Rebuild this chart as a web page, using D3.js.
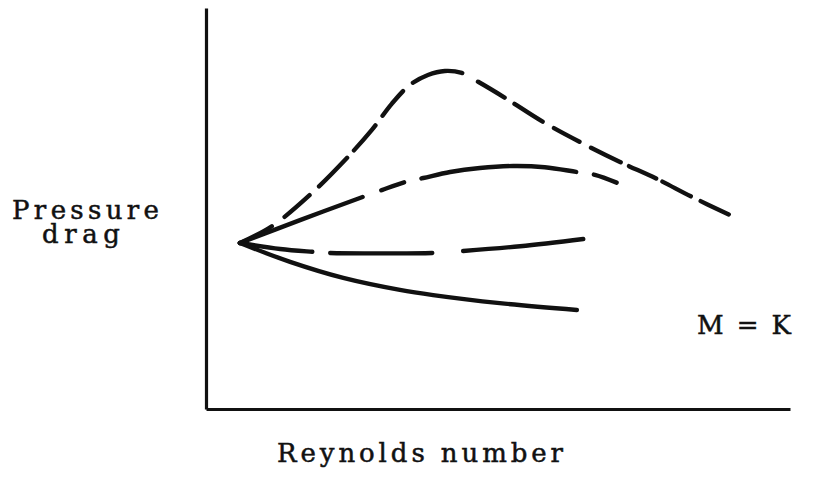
<!DOCTYPE html>
<html>
<head>
<meta charset="utf-8">
<script src="https://cdn.jsdelivr.net/npm/d3@7"></script>
<style>
  html, body { margin: 0; padding: 0; background: #fff; }
  svg { display: block; }
  text { font-family: "DejaVu Serif", serif; fill: #111; stroke: #111; stroke-width: 0.5; }
</style>
</head>
<body>
<svg id="chart" width="823" height="486"></svg>
<script>
// Pressure drag versus Reynolds number at constant Mach number (schematic, arbitrary units)
const curveNames = ["peak", "rise", "flat", "fall"];

// Curve 1: strong rise to a sharp peak, then decline (dashed)
const peakRe   = [5.8, 11.3, 17.8, 23.8, 28.4, 31.8, 34.9, 38.0, 40.9, 43.8, 46.6, 51.2, 57.7, 64.0, 70.9, 77.2, 83.2, 89.7];
const peakDrag = [41.4, 45.6, 53.4, 62.1, 69.6, 76.1, 80.8, 83.3, 84.3, 83.8, 81.6, 77.6, 71.6, 66.6, 61.6, 57.4, 52.9, 48.4];

// Curve 2: gentle rise to a broad maximum (long dash)
const riseRe   = [5.8, 16.1, 26.9, 30.1, 34.1, 37.2, 41.8, 46.9, 52.6, 58.0, 63.5, 66.6, 70.4];
const riseDrag = [41.4, 47.1, 52.9, 54.6, 56.6, 57.6, 59.1, 60.1, 60.6, 60.3, 59.1, 58.4, 56.4];

// Curve 3: nearly constant (long dash)
const flatRe   = [5.8, 12.7, 18.2, 21.2, 29.8, 38.7, 44.0, 53.8, 64.6];
const flatDrag = [41.4, 39.9, 39.2, 38.9, 38.8, 38.9, 39.4, 40.6, 42.4];

// Curve 4: steady decrease (solid)
const fallRe   = [5.8, 14.4, 23.5, 33.2, 38.9, 50.3, 63.5];
const fallDrag = [41.4, 36.7, 32.7, 29.7, 28.4, 26.4, 24.7];

const xTitle = "Reynolds number";
const yTitle = ["Pressure", "drag"];
const curveLabel = "M = K";

const series = [
  { name: curveNames[0], re: peakRe, drag: peakDrag, dash: "36 16 33 13 40 10 33 12 32 13 52 18 31 12 33 13 29 13 33 9 30 7 32 11 31 40" },
  { name: curveNames[1], re: riseRe, drag: riseDrag, dash: "131 20 24 18 156 18 24 40" },
  { name: curveNames[2], re: flatRe, drag: flatDrag, dash: "73 18 102 31 121 40" },
  { name: curveNames[3], re: fallRe, drag: fallDrag, dash: null }
];

const svg = d3.select("#chart");
const x = d3.scaleLinear().domain([0, 100]).range([206, 790]);
const y = d3.scaleLinear().domain([0, 100]).range([409, 8]);

// Axes: plain lines, no ticks
svg.append("g")
  .attr("transform", `translate(0,${y(0)})`)
  .call(d3.axisBottom(x).ticks(0).tickSizeOuter(0))
  .call(g => g.select(".domain").attr("stroke", "#111").attr("stroke-width", 3.2));
svg.append("g")
  .attr("transform", `translate(${x(0)},0)`)
  .call(d3.axisLeft(y).ticks(0).tickSizeOuter(0))
  .call(g => g.select(".domain").attr("stroke", "#111").attr("stroke-width", 3.2));

const line = d3.line()
  .x(d => x(d[0]))
  .y(d => y(d[1]))
  .curve(d3.curveCatmullRom.alpha(0.5));

svg.append("g").selectAll("path")
  .data(series)
  .join("path")
  .attr("d", s => line(s.re.map((r, i) => [r, s.drag[i]])))
  .attr("fill", "none")
  .attr("stroke", "#111")
  .attr("stroke-width", 4.4)
  .attr("stroke-linecap", "round")
  .attr("stroke-linejoin", "round")
  .attr("stroke-dasharray", s => s.dash);

// Labels
svg.append("text")
  .attr("x", 12).attr("y", 219)
  .attr("font-size", 26)
  .attr("textLength", 147).attr("lengthAdjust", "spacing")
  .text(yTitle[0]);
svg.append("text")
  .attr("x", 42).attr("y", 243)
  .attr("font-size", 26)
  .attr("textLength", 78).attr("lengthAdjust", "spacing")
  .text(yTitle[1]);
svg.append("text")
  .attr("x", 277).attr("y", 462)
  .attr("font-size", 26)
  .attr("textLength", 286).attr("lengthAdjust", "spacing")
  .text(xTitle);
svg.append("text")
  .attr("x", 697).attr("y", 334)
  .attr("font-size", 26)
  .attr("textLength", 94).attr("lengthAdjust", "spacing")
  .text(curveLabel);
</script>
</body>
</html>
